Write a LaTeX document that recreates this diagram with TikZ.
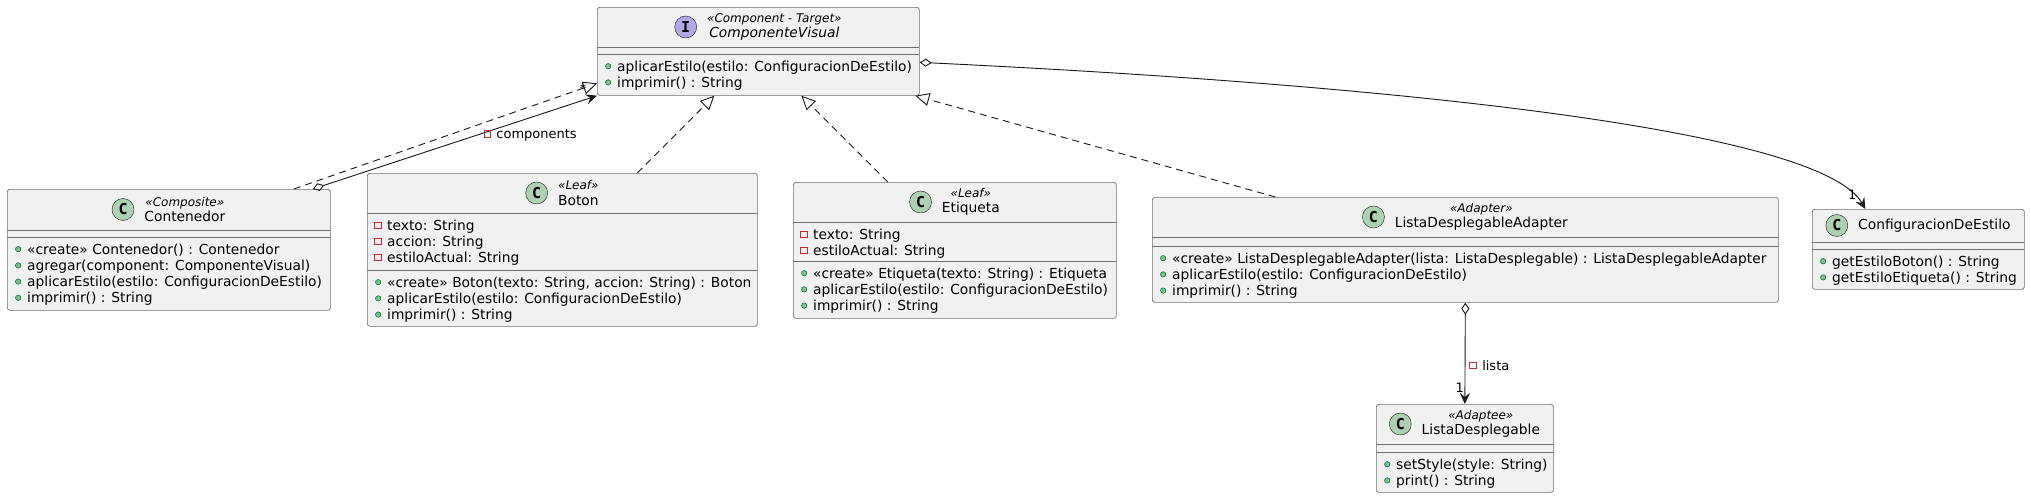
\documentclass[tikz,border=0pt]{standalone}
\usepackage{fontspec}
\setmainfont{DejaVu Sans}
\newfontfamily\iconfont{DejaVu Sans Mono}
\usetikzlibrary{arrows.meta}
\usetikzlibrary{positioning,calc}
\definecolor{umlfill}{HTML}{F1F1F1}
\definecolor{umlline}{HTML}{181818}
\definecolor{boxline}{HTML}{6E6E6E}
\definecolor{classgreen}{HTML}{ADD1B2}
\definecolor{ifacepurple}{HTML}{B4A7E5}
\definecolor{pubfill}{HTML}{84BE84}
\definecolor{publine}{HTML}{038048}
\definecolor{privred}{HTML}{C82930}
\tikzset{
    classbox/.style={
        draw=boxline,
        fill=umlfill,
        line width=0.7pt,
        rounded corners=2.5pt,
        inner sep=0pt,
        anchor=north west
    },
    classsep/.style={draw=boxline, line width=0.7pt},
    classicon/.style={
        draw=umlline,
        circle,
        fill=classgreen,
        minimum size=22pt,
        inner sep=0pt,
        font=\fontsize{15}{15}\selectfont\iconfont\bfseries
    },
    headtext/.style={align=center, inner sep=0pt, font=\fontsize{13.8}{15.5}\selectfont},
    members/.style={anchor=north west, align=left, inner sep=0pt, font=\fontsize{13.8}{16.2}\selectfont},
    pubmark/.style={draw=publine, fill=pubfill, line width=0.6pt, solid, arrows=-},
    privmark/.style={draw=privred, line width=0.8pt, solid, arrows=-},
    realize/.style={
        draw=umlline,
        line width=0.9pt,
        dash pattern=on 7pt off 5pt,
        -{Triangle[open, length=14pt, width=13pt]}
    },
    aggreg/.style={
        draw=umlline,
        line width=0.9pt,
        {Diamond[open, length=12pt, width=8pt]}-{Stealth[length=11pt, width=10pt, inset=4pt]}
    },
    edgelabel/.style={inner sep=0pt, font=\fontsize{13}{13}\selectfont}
}
\newcommand{\stereo}[1]{{\fontsize{12}{12}\selectfont\itshape «#1»}}
\newcommand{\pubm}{\tikz[baseline=-5pt]{\path (0pt,6pt) (8pt,-6pt); \draw[pubmark] (4pt,0pt) circle (2.7pt);}\hspace{5pt}}
\newcommand{\privm}{\tikz[baseline=-5pt]{\path (0pt,6pt) (8pt,-6pt); \draw[privmark] (0.5pt,-3.2pt) rectangle (7pt,3.2pt);}\hspace{5pt}}

\begin{document}
\begin{tikzpicture}[x=1pt, y=-1pt]
    \useasboundingbox[fill=white] (0,0) rectangle (2030,498);

    % ComponenteVisual (interface)
    \node[classbox, minimum width=322pt, minimum height=88pt] (cv) at (597,7) {};
    \node[headtext] (cvname) at ([xshift=16pt, yshift=-20pt]cv.north) {\stereo{Component - Target}\\\textit{ComponenteVisual}};
    \node[classicon, fill=ifacepurple, left=10pt of cvname] (cvicon) {I};
    \draw[classsep] (597,47) -- (919,47);
    \draw[classsep] (597,54) -- (919,54);
    \node[members] (cvops) at (604,60) {\pubm aplicarEstilo(estilo: ConfiguracionDeEstilo)\\\pubm imprimir() : String};

    % Contenedor
    \node[classbox, minimum width=323pt, minimum height=121pt] (cont) at (7,189) {};
    \node[headtext] (contname) at ([xshift=16pt, yshift=-20.5pt]cont.north) {\stereo{Composite}\\Contenedor};
    \node[classicon, left=10pt of contname] (conticon) {C};
    \draw[classsep] (7,230) -- (330,230);
    \draw[classsep] (7,237) -- (330,237);
    \node[members] (contops) at (14,243) {\pubm «create» Contenedor() : Contenedor\\\pubm agregar(component: ComponenteVisual)\\\pubm aplicarEstilo(estilo: ConfiguracionDeEstilo)\\\pubm imprimir() : String};

    % Boton
    \node[classbox, minimum width=390pt, minimum height=153pt] (boton) at (367,173) {};
    \node[headtext] (botonname) at ([xshift=16pt, yshift=-20pt]boton.north) {\stereo{Leaf}\\Boton};
    \node[classicon, left=10pt of botonname] (botonicon) {C};
    \draw[classsep] (367,213) -- (757,213);
    \draw[classsep] (367,270) -- (757,270);
    \node[members] (botonattr) at (374,219) {\privm texto: String\\\privm accion: String\\\privm estiloActual: String};
    \node[members] (botonops) at (374,276) {\pubm «create» Boton(texto: String, accion: String) : Boton\\\pubm aplicarEstilo(estilo: ConfiguracionDeEstilo)\\\pubm imprimir() : String};

    % Etiqueta
    \node[classbox, minimum width=323pt, minimum height=136pt] (etiq) at (793,182) {};
    \node[headtext] (etiqname) at ([xshift=16pt, yshift=-20pt]etiq.north) {\stereo{Leaf}\\Etiqueta};
    \node[classicon, left=10pt of etiqname] (etiqicon) {C};
    \draw[classsep] (793,222) -- (1116,222);
    \draw[classsep] (793,261) -- (1116,261);
    \node[members] (etiqattr) at (800,228) {\privm texto: String\\\privm estiloActual: String};
    \node[members] (etiqops) at (800,267) {\pubm «create» Etiqueta(texto: String) : Etiqueta\\\pubm aplicarEstilo(estilo: ConfiguracionDeEstilo)\\\pubm imprimir() : String};

    % ListaDesplegableAdapter
    \node[classbox, minimum width=626pt, minimum height=105pt] (adapter) at (1152,197) {};
    \node[headtext] (adaptername) at ([xshift=16pt, yshift=-20pt]adapter.north) {\stereo{Adapter}\\ListaDesplegableAdapter};
    \node[classicon, left=10pt of adaptername] (adaptericon) {C};
    \draw[classsep] (1152,237) -- (1778,237);
    \draw[classsep] (1152,246) -- (1778,246);
    \node[members] (adapterops) at (1159,252) {\pubm «create» ListaDesplegableAdapter(lista: ListaDesplegable) : ListaDesplegableAdapter\\\pubm aplicarEstilo(estilo: ConfiguracionDeEstilo)\\\pubm imprimir() : String};

    % ConfiguracionDeEstilo
    \node[classbox, minimum width=212pt, minimum height=80pt] (conf) at (1812,209) {};
    \node[headtext] (confname) at ([xshift=16pt, yshift=-16.5pt]conf.north) {ConfiguracionDeEstilo};
    \node[classicon, left=10pt of confname] (conficon) {C};
    \draw[classsep] (1812,242) -- (2024,242);
    \draw[classsep] (1812,249) -- (2024,249);
    \node[members] (confops) at (1819,255) {\pubm getEstiloBoton() : String\\\pubm getEstiloEtiqueta() : String};

    % ListaDesplegable
    \node[classbox, minimum width=177pt, minimum height=88pt] (lista) at (1376,404) {};
    \node[headtext] (listaname) at ([xshift=16pt, yshift=-20pt]lista.north) {\stereo{Adaptee}\\ListaDesplegable};
    \node[classicon, left=10pt of listaname] (listaicon) {C};
    \draw[classsep] (1376,444) -- (1553,444);
    \draw[classsep] (1376,452) -- (1553,452);
    \node[members] (listaops) at (1383,458) {\pubm setStyle(style: String)\\\pubm print() : String};

    % realizations
    \draw[realize] ([xshift=125pt]cont.north) -- ([yshift=-32pt]cv.west);
    \draw[realize] ([xshift=75pt]boton.north) -- ([xshift=-44pt]cv.south);
    \draw[realize] ([xshift=-67pt]etiq.north) -- ([xshift=43pt]cv.south);
    \draw[realize] ([xshift=-190pt]adapter.north) -- ([xshift=157pt]cv.south);

    % aggregations
    \draw[aggreg] ([xshift=144pt]cont.north) -- (cv.south west)
        node[edgelabel, pos=0.951, yshift=12pt] {*}
        node[edgelabel, pos=0.7645, yshift=-17pt] {\privm components};
    \draw[aggreg] ([yshift=-11pt]cv.east) .. controls +(481,23) and +(-45,-79) .. ([xshift=-53pt]conf.north)
        node[edgelabel, pos=1, xshift=-13pt, yshift=14pt] {1};
    \draw[aggreg] (adapter.south) -- (lista.north)
        node[edgelabel, pos=0.62, anchor=west, xshift=4pt] {\privm lista}
        node[edgelabel, pos=1, xshift=-5pt, yshift=16pt] {1};
\end{tikzpicture}
\end{document}
